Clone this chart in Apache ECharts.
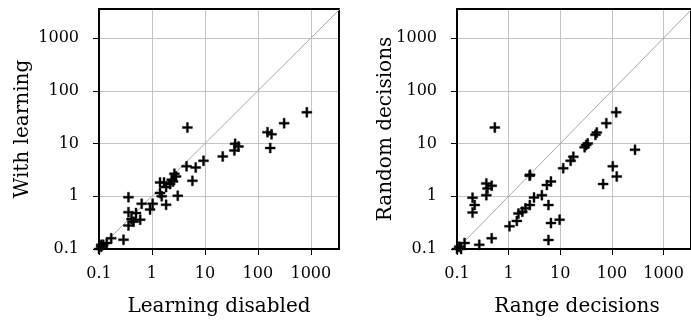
<!DOCTYPE html>
<html><head><meta charset="utf-8">
<script src="https://cdn.jsdelivr.net/npm/echarts@6/dist/echarts.min.js"></script>
<style>html,body{margin:0;padding:0;background:#fff}#c{width:691px;height:322px}</style>
</head><body><div id="c"></div>
<script>
// Left panel: Learning disabled (x) vs With learning (y)
const learningDisabled = [840,313,152,181,171,4.67,37.2,43,36,21.7,9.4,6.7,4.5,5.8,2.65,2.85,2.36,2.2,1.42,1.69,1.85,1.42,1.53,3.07,1.85,1.03,0.92,0.64,0.36,0.36,0.50,0.41,0.60,0.36,0.45,0.29,0.17,0.14,0.12,0.11,0.1,0.11,2.5];
const withLearning     = [39,24.3,16.4,15,8.2,20.1,9.9,8.8,7.4,5.7,4.7,3.5,3.7,1.96,2.67,2.37,2.05,1.7,1.83,1.83,1.49,1.15,1.0,1.02,0.69,0.72,0.56,0.72,0.96,0.50,0.48,0.37,0.36,0.28,0.33,0.15,0.16,0.13,0.12,0.11,0.1,0.12,1.9];
// Right panel: Range decisions (x) vs Random decisions (y)
const rangeDecisions  = [121,78,51,48,31.8,29.6,34,280,104,124,67.6,17.9,15.9,11.4,6.6,5.5,4.4,3.1,5.9,6.6,9.7,5.9,2.6,2.55,2.57,2.12,1.84,1.55,1.44,1.04,0.54,0.37,0.47,0.39,0.37,0.20,0.22,0.20,0.47,0.27,0.14,0.1,0.11,0.12];
const randomDecisions = [39,24.3,16.1,14.6,9.4,8.5,10,7.6,3.7,2.37,1.7,5.6,4.7,3.4,1.9,1.63,1.05,0.95,0.68,0.31,0.36,0.148,2.55,2.45,0.68,0.59,0.51,0.47,0.34,0.27,20.1,1.75,1.58,1.41,1.05,0.94,0.68,0.49,0.16,0.12,0.13,0.1,0.11,0.1];
const tickLabels = ['0.1','1','10','100','1000'];
const axisMin = 0.1, axisMaxX = 3400, axisMaxY = 3550;
const titles = {x1:'Learning disabled', y1:'With learning', x2:'Range decisions', y2:'Random decisions'};

const FONT = 'DejaVu Serif';
const chart = echarts.init(document.getElementById('c'), null, {renderer:'canvas'});
const zip = (a,b) => a.map((v,i)=>[v,b[i]]);
const plus = 'path://M4,0H6V4H10V6H6V10H4V6H0V4H4Z';
function fmt(v){
  for (const t of tickLabels){ if (Math.abs(v-parseFloat(t))/parseFloat(t) < 1e-6) return t; }
  return '';
}
function axis(type, gi, max){
  return {
    type:'log', logBase:10, gridIndex:gi, min:axisMin, max:max,
    position: type==='x' ? 'bottom' : 'left',
    axisLine:{show:true, lineStyle:{color:'#000', width:2}},
    axisTick:{show:true, inside:false, length:6, lineStyle:{color:'#000', width:1}},
    axisLabel:{show:true, formatter:fmt, fontFamily:FONT, fontSize:16, color:'#000', margin: type==='x'?17:20, showMaxLabel:false},
    splitLine:{show:true, lineStyle:{color:'#c4c4c4', width:1}},
    minorTick:{show:false}, z:0
  };
}
function frameAxis(type, gi, max){
  return {
    type:'log', logBase:10, gridIndex:gi, min:axisMin, max:max,
    position: type==='x' ? 'top' : 'right',
    axisLine:{show:true, onZero:false, lineStyle:{color:'#000', width:2}},
    axisTick:{show:false}, axisLabel:{show:false}, splitLine:{show:false}, z:0
  };
}
const grids = [
  {left:99, top:9, width:240, height:240, show:false},
  {left:457, top:9, width:240, height:240, show:false}
];
function diag(gi, max){
  return {type:'line', xAxisIndex:gi, yAxisIndex:gi, data:[[axisMin,axisMin],[max,max]], symbol:'none',
    lineStyle:{color:'#a8a8a8', width:1}, silent:true, z:1, clip:true};
}
function sc(gi, data){
  return {type:'scatter', xAxisIndex:gi, yAxisIndex:gi, data:data, symbol:plus, symbolSize:10,
    itemStyle:{color:'#000', opacity:1, borderColor:'#000', borderWidth:0.4}, z:10, clip:false};
}
const tfont = '20px "'+FONT+'"';
chart.setOption({
  animation:false,
  grid:grids,
  xAxis:[axis('x',0,axisMaxX), axis('x',1,axisMaxX), frameAxis('x',0,axisMaxX), frameAxis('x',1,axisMaxX)],
  yAxis:[axis('y',0,axisMaxY), axis('y',1,axisMaxY), frameAxis('y',0,axisMaxY), frameAxis('y',1,axisMaxY)],
  series:[diag(0,axisMaxY), diag(1,axisMaxY), sc(0, zip(learningDisabled, withLearning)), sc(1, zip(rangeDecisions, randomDecisions))],
  graphic:[
    {type:'text', x:219, y:307, style:{text:titles.x1, font:tfont, fill:'#000', align:'center', verticalAlign:'middle'}},
    {type:'text', x:577, y:307, style:{text:titles.x2, font:tfont, fill:'#000', align:'center', verticalAlign:'middle'}},
    {type:'text', x:23, y:129, rotation:Math.PI/2, style:{text:titles.y1, font:tfont, fill:'#000', align:'center', verticalAlign:'middle'}},
    {type:'text', x:386, y:129, rotation:Math.PI/2, style:{text:titles.y2, font:tfont, fill:'#000', align:'center', verticalAlign:'middle'}}
  ]
});
</script></body></html>
